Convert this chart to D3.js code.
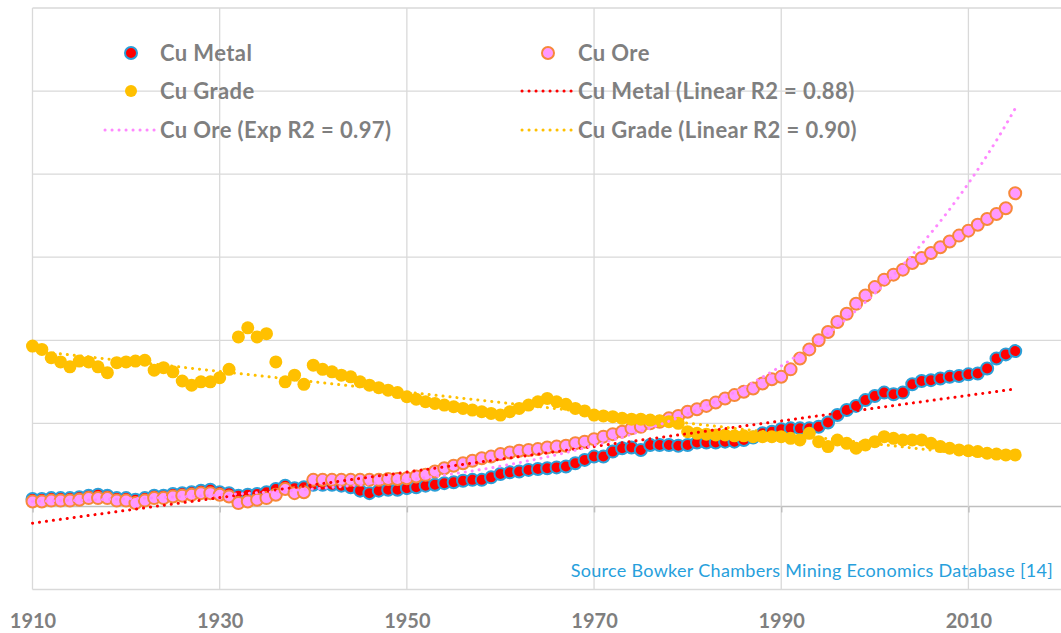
<!DOCTYPE html>
<html>
<head>
<meta charset="utf-8">
<style>
html, body { margin: 0; padding: 0; background: #fff; }
svg { display: block; }
</style>
</head>
<body>
<svg width="1061" height="633"></svg>
<script src="https://cdn.jsdelivr.net/npm/d3@7/dist/d3.min.js"></script>
<script>
// yearly values 1910..2015 (units of one gridline step)
var firstYear = 1910;
var cuMetal = [0.09,0.09,0.10,0.10,0.10,0.11,0.13,0.14,0.13,0.10,
  0.10,0.08,0.10,0.13,0.13,0.15,0.16,0.17,0.19,0.20,
  0.17,0.16,0.13,0.14,0.15,0.17,0.21,0.25,0.22,0.23,
  0.26,0.26,0.26,0.25,0.23,0.19,0.16,0.19,0.20,0.20,
  0.22,0.23,0.25,0.26,0.28,0.29,0.31,0.32,0.32,0.35,
  0.39,0.41,0.42,0.44,0.45,0.46,0.47,0.48,0.52,0.56,
  0.60,0.60,0.66,0.70,0.71,0.68,0.74,0.74,0.74,0.73,
  0.74,0.77,0.77,0.77,0.78,0.78,0.80,0.83,0.88,0.90,
  0.93,0.94,0.94,0.94,0.96,1.01,1.10,1.16,1.21,1.28,
  1.33,1.37,1.35,1.37,1.47,1.51,1.52,1.54,1.56,1.57,
  1.59,1.60,1.66,1.78,1.83,1.87];
var cuOre = [0.06,0.06,0.07,0.07,0.07,0.08,0.10,0.10,0.10,0.07,
  0.07,0.04,0.07,0.10,0.10,0.12,0.13,0.14,0.16,0.16,
  0.14,0.12,0.04,0.06,0.08,0.10,0.14,0.21,0.16,0.17,
  0.32,0.32,0.32,0.32,0.32,0.32,0.32,0.32,0.33,0.33,
  0.34,0.36,0.38,0.42,0.46,0.49,0.52,0.55,0.58,0.60,
  0.63,0.65,0.67,0.68,0.69,0.71,0.72,0.73,0.76,0.78,
  0.81,0.84,0.87,0.90,0.94,0.96,1.00,1.02,1.06,1.09,
  1.14,1.17,1.21,1.25,1.30,1.34,1.38,1.42,1.48,1.53,
  1.56,1.65,1.78,1.89,2.00,2.10,2.22,2.32,2.44,2.54,
  2.64,2.73,2.79,2.85,2.93,2.99,3.05,3.12,3.19,3.26,
  3.32,3.39,3.46,3.52,3.59,3.77];
var cuGrade = [1.93,1.89,1.79,1.74,1.68,1.75,1.74,1.68,1.61,1.73,
  1.74,1.75,1.76,1.64,1.67,1.62,1.51,1.46,1.50,1.50,
  1.55,1.65,2.04,2.15,2.04,2.08,1.74,1.50,1.58,1.47,
  1.70,1.65,1.62,1.58,1.56,1.50,1.46,1.43,1.40,1.37,
  1.32,1.29,1.26,1.24,1.22,1.20,1.18,1.16,1.14,1.12,
  1.10,1.14,1.18,1.22,1.26,1.30,1.26,1.23,1.18,1.15,
  1.10,1.09,1.08,1.06,1.05,1.05,1.04,1.03,1.02,1.00,
  0.90,0.88,0.87,0.86,0.86,0.85,0.85,0.84,0.84,0.84,
  0.84,0.82,0.80,0.88,0.78,0.72,0.80,0.76,0.70,0.74,
  0.78,0.84,0.82,0.80,0.80,0.80,0.76,0.72,0.70,0.68,
  0.67,0.66,0.64,0.63,0.62,0.62];
var xTicks = [1910, 1930, 1950, 1970, 1990, 2010];
var yGrid = [-1, 0, 1, 2, 3, 4, 5, 6];

var svg = d3.select("svg");
var x = d3.scaleLinear().domain([1910, 2020]).range([32.5, 1062]);
var y = d3.scaleLinear().domain([-1, 6]).range([589.5, 8]);
var font = "Lato, 'Liberation Sans', sans-serif";

function pts(vals) {
  return vals.map(function(v, i) { return { year: firstYear + i, v: v }; });
}

// least squares on (year, value), as the spreadsheet trendlines do
function linFit(d) {
  var n = d.length, sx = 0, sy = 0, sxx = 0, sxy = 0;
  d.forEach(function(p) { sx += p.year; sy += p.v; sxx += p.year * p.year; sxy += p.year * p.v; });
  var b = (n * sxy - sx * sy) / (n * sxx - sx * sx);
  var a = (sy - b * sx) / n;
  return function(t) { return a + b * t; };
}
function expFit(d) {
  var f = linFit(d.map(function(p) { return { year: p.year, v: Math.log(p.v) }; }));
  return function(t) { return Math.exp(f(t)); };
}

var metal = pts(cuMetal), ore = pts(cuOre), grade = pts(cuGrade);

// grid
var grid = svg.append("g");
grid.selectAll(".hg").data(yGrid).enter().append("line")
  .attr("x1", x(1910)).attr("x2", 1061)
  .attr("y1", function(d) { return y(d); }).attr("y2", function(d) { return y(d); })
  .attr("stroke", function(d) { return d === 0 ? "#bfbfbf" : "#d9d9d9"; })
  .attr("stroke-width", function(d) { return d === 0 ? 1.5 : 1.3; });
grid.selectAll(".vg").data(xTicks).enter().append("line")
  .attr("x1", function(d) { return x(d); }).attr("x2", function(d) { return x(d); })
  .attr("y1", y(6)).attr("y2", y(-1))
  .attr("stroke", "#d9d9d9").attr("stroke-width", 1.3);

// x axis sits on the zero line
var xAxis = svg.append("g")
  .attr("transform", "translate(0," + y(0) + ")")
  .call(d3.axisBottom(x).tickValues(xTicks).tickSize(6).tickFormat(d3.format("d")));
xAxis.select(".domain").remove();
xAxis.selectAll("line").attr("stroke", "#bfbfbf").attr("stroke-width", 1.5);
xAxis.selectAll("text")
  .attr("y", 628 - y(0)).attr("dy", 0)
  .attr("fill", "#7f7f7f")
  .style("font-family", font)
  .style("font-weight", "bold").style("font-size", "20px");

// series
function scatter(data, r, fill, stroke) {
  svg.append("g").selectAll("circle").data(data).enter().append("circle")
    .attr("cx", function(d) { return x(d.year); })
    .attr("cy", function(d) { return y(d.v); })
    .attr("r", r)
    .attr("fill", fill)
    .attr("stroke", stroke || "none")
    .attr("stroke-width", stroke ? 2 : 0);
}
scatter(metal, 6, "#ff0000", "#2a9fd8");
scatter(ore, 6, "#ff99ff", "#f7883a");
scatter(grade, 6.5, "#ffc000");

// trendlines
function trend(fn, color) {
  var years = d3.range(1910, 2015.01, 0.5);
  svg.append("path")
    .attr("d", d3.line().x(function(t) { return x(t); }).y(function(t) { return y(fn(t)); })(years))
    .attr("fill", "none").attr("stroke", color).attr("stroke-width", 3)
    .attr("stroke-dasharray", "0.1 6.9").attr("stroke-linecap", "round");
}
trend(linFit(metal), "#ff0000");
trend(expFit(ore), "#ff88ff");
trend(linFit(grade), "#ffc000");

// legend
var legendItems = [
  { label: "Cu Metal", kind: "dot", fill: "#ff0000", stroke: "#2a9fd8", col: 0, row: 0 },
  { label: "Cu Ore", kind: "dot", fill: "#ff99ff", stroke: "#f7883a", col: 1, row: 0 },
  { label: "Cu Grade", kind: "dot", fill: "#ffc000", stroke: null, col: 0, row: 1 },
  { label: "Cu Metal (Linear R2 = 0.88)", kind: "line", color: "#ff0000", col: 1, row: 1 },
  { label: "Cu Ore (Exp R2 = 0.97)", kind: "line", color: "#ff88ff", col: 0, row: 2 },
  { label: "Cu Grade (Linear R2 = 0.90)", kind: "line", color: "#ffc000", col: 1, row: 2 }
];
var colX = [131, 548], rowY = [53, 91, 130], textX = [160, 578];
var lg = svg.append("g");
legendItems.forEach(function(it) {
  var cx = colX[it.col], cy = rowY[it.row];
  if (it.kind === "dot") {
    lg.append("circle").attr("cx", cx).attr("cy", cy).attr("r", 6)
      .attr("fill", it.fill).attr("stroke", it.stroke || "none").attr("stroke-width", it.stroke ? 2 : 0);
  } else {
    lg.append("line").attr("x1", cx - 26).attr("x2", cx + 24).attr("y1", cy).attr("y2", cy)
      .attr("stroke", it.color).attr("stroke-width", 3)
      .attr("stroke-dasharray", "0.1 6.9").attr("stroke-linecap", "round");
  }
  lg.append("text").attr("x", textX[it.col]).attr("y", cy + 8)
    .attr("fill", "#7f7f7f")
    .style("font-family", font)
    .style("font-weight", "bold").style("font-size", "22px")
    .style("letter-spacing", "0.4px")
    .text(it.label);
});

// source note
svg.append("text").attr("x", 1053).attr("y", 577).attr("text-anchor", "end")
  .attr("fill", "#27a0dc")
  .style("font-family", font)
  .style("font-size", "18px")
  .style("letter-spacing", "0.3px")
  .text("Source Bowker Chambers Mining Economics Database [14]");
</script>
</body>
</html>
